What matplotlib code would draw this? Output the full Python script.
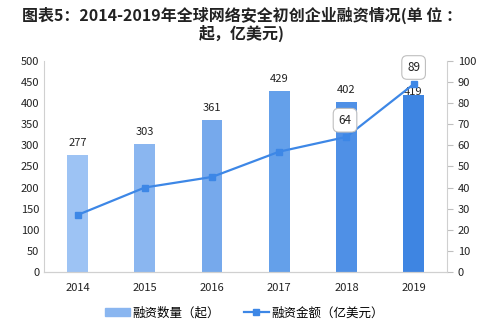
import numpy as np
import matplotlib.pyplot as plt

plt.rcParams['font.family'] = ['Noto Sans CJK SC', 'DejaVu Sans']

years = ['2014', '2015', '2016', '2017', '2018', '2019']
deal_counts = [277, 303, 361, 429, 402, 419]
amounts = [27, 40, 45, 57, 64, 89]
bar_colors = ['#9dc3f4', '#8ab6f0', '#76a9ec', '#64a0ea', '#4f90e6', '#3e85e2']
line_color = '#3d87e6'

fig = plt.figure(figsize=(4.84, 3.26), dpi=100)
ax = fig.add_axes([0.091, 0.166, 0.833, 0.647])
ax2 = ax.twinx()

x = np.arange(len(years))
ax.bar(x, deal_counts, width=0.31, color=bar_colors, zorder=2)
ax.set_ylim(0, 500)
ax.set_yticks(range(0, 501, 50))
ax.set_xlim(-0.5, 5.5)
ax.set_xticks(x)
ax.set_xticklabels(years)
ax.tick_params(axis='both', length=0, labelsize=8, colors='#222222')
ax.tick_params(axis='x', pad=8)

for i, v in enumerate(deal_counts):
    if i == 5:
        ax.annotate(str(v), (i, v), xytext=(0, 2), textcoords='offset points',
                    ha='center', va='center', fontsize=8, color='#222222', zorder=5)
    else:
        ax.annotate(str(v), (i, v), xytext=(0, 5), textcoords='offset points',
                    ha='center', va='bottom', fontsize=8, color='#222222', zorder=5)

ax2.plot(x, amounts, color=line_color, lw=1.6, marker='s', markersize=5, zorder=3)
ax2.set_ylim(0, 100)
ax2.set_yticks(range(0, 101, 10))
ax2.tick_params(axis='y', length=4, color='#bfbfbf', labelsize=8, colors='#222222')
ax2.tick_params(axis='y', color='#bfbfbf')

for i, dx in [(4, -1), (5, 0)]:
    ax2.annotate(str(amounts[i]), (i, amounts[i]), xytext=(dx, 12), textcoords='offset points',
                 ha='center', va='center', fontsize=8.5, color='#222222',
                 bbox=dict(boxstyle='round,pad=0.45', fc='white', ec='#bfbfbf', lw=0.8),
                 zorder=6)

for a in (ax, ax2):
    a.spines['top'].set_visible(False)
    for s in ('left', 'right', 'bottom'):
        a.spines[s].set_color('#d0d0d0')
ax2.spines['left'].set_visible(False)
ax.spines['right'].set_visible(False)

fig.text(0.5, 0.98, '图表5：2014-2019年全球网络安全初创企业融资情况(单 位 ：',
         ha='center', va='top', fontsize=11.5, fontweight='bold', color='#222222')
fig.text(0.5, 0.925, '起，亿美元)', ha='center', va='top', fontsize=11.5,
         fontweight='bold', color='#222222')

h1 = plt.Rectangle((0, 0), 1, 1, color='#8ab6f0')
h2 = plt.Line2D([], [], color=line_color, lw=1.6, marker='s', markersize=5)
fig.legend([h1, h2], ['融资数量（起）', '融资金额（亿美元）'], loc='center',
           bbox_to_anchor=(0.505, 0.04), ncol=2, frameon=False, fontsize=9,
           handlelength=2.0, columnspacing=1.9, handletextpad=0.2)

fig.savefig('out.png', dpi=100)
